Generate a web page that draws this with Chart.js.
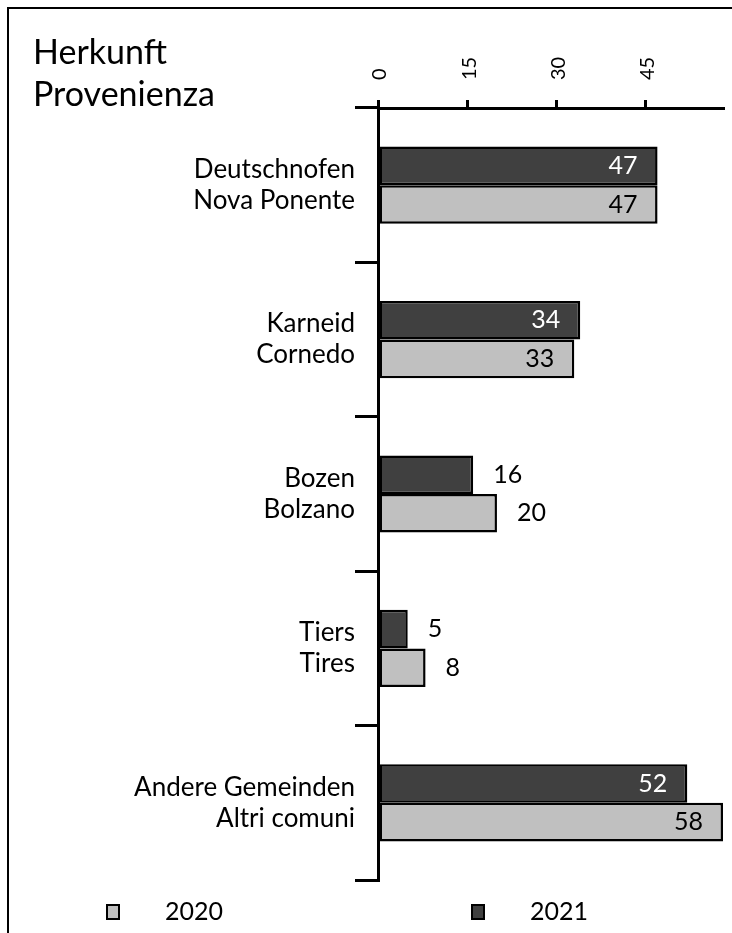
<!DOCTYPE html>
<html>
<head>
<meta charset="utf-8">
<script src="https://cdn.jsdelivr.net/npm/chart.js@4.4.1/dist/chart.umd.min.js"></script>
<style>
  html, body { margin: 0; padding: 0; background: #fff; }
  #wrap { position: relative; width: 732px; height: 933px; overflow: hidden; }
  #frame { position: absolute; left: 7px; top: 7px; width: 800px; height: 1000px;
           border-top: 2px solid #000; border-left: 2px solid #000; pointer-events: none; }
  canvas { position: absolute; left: 0; top: 0; }
</style>
</head>
<body>
<div id="wrap">
  <canvas id="c" width="732" height="933"></canvas>
  <div id="frame"></div>
</div>
<script>
const titleLines = ["Herkunft", "Provenienza"];
const categories = [
  ["Deutschnofen", "Nova Ponente"],
  ["Karneid", "Cornedo"],
  ["Bozen", "Bolzano"],
  ["Tiers", "Tires"],
  ["Andere Gemeinden", "Altri comuni"]
];
const values2021 = [47, 34, 16, 5, 52];
const values2020 = [47, 33, 20, 8, 58];
const tickValues = [0, 15, 30, 45];
const axisMax = 58;

const FONT = "Lato";

const decor = {
  id: 'decor',
  afterDatasetsDraw(chart) {
    const ctx = chart.ctx;
    ctx.save();
    ctx.font = "25px " + FONT;
    ctx.textBaseline = 'middle';
    chart.data.datasets.forEach((ds, di) => {
      const meta = chart.getDatasetMeta(di);
      meta.data.forEach((bar, i) => {
        const v = ds.data[i];
        const txt = String(v);
        if (v > 25) {
          ctx.textAlign = 'right';
          ctx.fillStyle = ds.labelColor;
          ctx.fillText(txt, bar.x - 20, bar.y);
        } else {
          ctx.textAlign = 'left';
          ctx.fillStyle = '#000';
          ctx.fillText(txt, bar.x + 20, bar.y);
        }
      });
    });
    ctx.restore();
  },
  afterDraw(chart) {
    const ctx = chart.ctx;
    ctx.save();
    // title
    ctx.fillStyle = '#000';
    ctx.font = "34px " + FONT;
    ctx.textAlign = 'left';
    ctx.textBaseline = 'alphabetic';
    ctx.fillText(titleLines[0], 33, 64);
    ctx.fillText(titleLines[1], 33, 106);
    // legend (2020 first, 2021 second)
    const order = [1, 0];
    const xs = [107, 472];
    ctx.font = "25px " + FONT;
    ctx.textBaseline = 'middle';
    order.forEach((di, k) => {
      const ds = chart.data.datasets[di];
      const x = xs[k], y = 912;
      ctx.fillStyle = ds.backgroundColor;
      ctx.fillRect(x, y - 7, 12, 14);
      ctx.lineWidth = 2;
      ctx.strokeStyle = '#000';
      ctx.strokeRect(x, y - 7, 12, 14);
      ctx.fillStyle = '#000';
      ctx.textAlign = 'left';
      ctx.fillText(ds.label, x + 58, y);
    });
    ctx.restore();
  }
};

new Chart(document.getElementById('c'), {
  type: 'bar',
  data: {
    labels: categories,
    datasets: [
      { label: '2021', data: values2021, backgroundColor: '#404040', labelColor: '#fff',
        borderColor: '#000', borderWidth: 2.5, borderSkipped: false },
      { label: '2020', data: values2020, backgroundColor: '#c0c0c0', labelColor: '#000',
        borderColor: '#000', borderWidth: 2.5, borderSkipped: false }
    ]
  },
  options: {
    indexAxis: 'y',
    responsive: false,
    animation: false,
    devicePixelRatio: 1,
    layout: { padding: { left: 0, right: 9, top: 0, bottom: 53 } },
    datasets: { bar: { barPercentage: 1, categoryPercentage: 0.5 } },
    plugins: { legend: { display: false }, tooltip: { enabled: false }, title: { display: false } },
    scales: {
      x: {
        position: 'top',
        min: 0,
        max: axisMax,
        afterBuildTicks(scale) { scale.ticks = tickValues.map(v => ({ value: v })); },
        afterFit(scale) { scale.height = 108; },
        ticks: {
          minRotation: 90, maxRotation: 90, padding: 20, labelOffset: 26,
          color: '#000', font: { family: FONT, size: 20 },
          callback: (v) => String(v)
        },
        grid: { drawOnChartArea: false, drawTicks: true, tickLength: 8, color: '#000', lineWidth: 3 },
        border: { display: true, color: '#000', width: 3 }
      },
      y: {
        afterFit(scale) { scale.width = 378; },
        ticks: { color: '#000', padding: 0, font: { family: FONT, size: 26, lineHeight: '31px' } },
        grid: { offset: true, drawOnChartArea: false, drawTicks: true, tickLength: 23, color: '#000', lineWidth: 3 },
        border: { display: true, color: '#000', width: 3 }
      }
    }
  },
  plugins: [decor]
});
</script>
</body>
</html>
